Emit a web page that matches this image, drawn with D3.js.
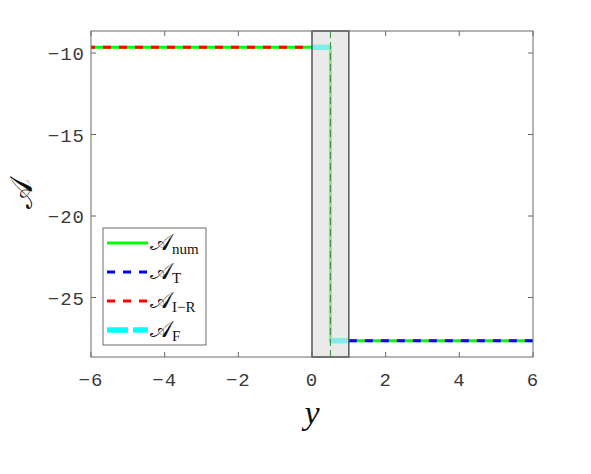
<!DOCTYPE html>
<html><head><meta charset="utf-8">
<script src="https://cdn.jsdelivr.net/npm/d3@7"></script>
<style>
body{margin:0;background:#fff;}
svg text{font-family:"Liberation Mono","DejaVu Sans Mono",monospace;}
</style></head>
<body><svg id="c" width="591" height="474"></svg>
<script>
// data
const xTicks = [-6,-4,-2,0,2,4,6];
const yTicks = [-25,-20,-15,-10];
const xDomain = [-6, 6];
const yDomain = [-28.65, -8.65];
const numX = [-6, 0.5, 0.5, 6];
const numV = [-9.65, -9.65, -27.65, -27.65];
const tX = [1, 6];
const tV = [-27.65, -27.65];
const irX = [-6, 0];
const irV = [-9.65, -9.65];
const fX = [0, 0.5, NaN, 0.5, 1];
const fV = [-9.65, -9.65, NaN, -27.65, -27.65];
const bandX = [0, 1];
const legendLabels = ["num", "T", "I\u2212R", "F"];

const svg = d3.select("#c");
const L=91, R=533, T=31, B=357;
const x = d3.scaleLinear().domain(xDomain).range([L,R]);
const y = d3.scaleLinear().domain(yDomain).range([B,T]);
const axisCol = "#6b6b6b";

const pts = (xs, vs) => xs.map((d,i)=>[d, vs[i]]);
const line = d3.line().defined(d=>!isNaN(d[0])&&!isNaN(d[1])).x(d=>x(d[0])).y(d=>y(d[1]));

const g = svg.append("g");
g.append("path").attr("d", line(pts(numX,numV))).attr("fill","none").attr("stroke","#00ff00").attr("stroke-width",3);
g.append("path").attr("d", line(pts(tX,tV))).attr("fill","none").attr("stroke","#0000ff").attr("stroke-width",3).attr("stroke-dasharray","8,8");
g.append("path").attr("d", line(pts(irX,irV))).attr("fill","none").attr("stroke","#ff0000").attr("stroke-width",3).attr("stroke-dasharray","8,8").attr("stroke-dashoffset",4);
g.append("path").attr("d", line(pts(fX,fV))).attr("fill","none").attr("stroke","#00ffff").attr("stroke-width",5.5).attr("stroke-dasharray","21,5");

// band overlay
g.append("rect").attr("x", x(bandX[0])).attr("y", T).attr("width", x(bandX[1])-x(bandX[0])).attr("height", B-T)
  .attr("fill","#dcdcdc").attr("fill-opacity",0.6).attr("stroke","#555").attr("stroke-width",1.5);
// dashed interface marker at 0.5
g.append("line").attr("x1", x(0.5)).attr("x2", x(0.5)).attr("y1", T).attr("y2", B)
  .attr("stroke","#3d8a3d").attr("stroke-width",1).attr("stroke-dasharray","7,4");

// axes box
svg.append("rect").attr("x",L).attr("y",T).attr("width",R-L).attr("height",B-T).attr("fill","none").attr("stroke",axisCol).attr("stroke-width",1);

const ax = svg.append("g");
const tl = 5;
xTicks.forEach(t=>{
  ax.append("line").attr("x1",x(t)).attr("x2",x(t)).attr("y1",B).attr("y2",B-tl).attr("stroke",axisCol);
  ax.append("line").attr("x1",x(t)).attr("x2",x(t)).attr("y1",T).attr("y2",T+tl).attr("stroke",axisCol);
  ax.append("text").attr("x",x(t)).attr("y",B+29).attr("text-anchor","middle").attr("font-size",19).attr("letter-spacing","1px").attr("fill","#3a3a3a")
    .text(t<0?"\u2212"+Math.abs(t):String(t));
});
yTicks.forEach(t=>{
  ax.append("line").attr("x1",L).attr("x2",L+tl).attr("y1",y(t)).attr("y2",y(t)).attr("stroke",axisCol);
  ax.append("line").attr("x1",R).attr("x2",R-tl).attr("y1",y(t)).attr("y2",y(t)).attr("stroke",axisCol);
  ax.append("text").attr("x",L-6).attr("y",y(t)+7).attr("text-anchor","end").attr("font-size",19).attr("letter-spacing","1px").attr("fill","#3a3a3a")
    .text("\u2212"+Math.abs(t));
});

// axis labels
svg.append("text").attr("x",(L+R)/2).attr("y",424).attr("text-anchor","middle")
  .style("font-family","'Liberation Serif',serif").style("font-style","italic").attr("font-size",34).attr("fill","#111").text("y");
svg.append("text").attr("transform",`translate(32,${(T+B)/2}) rotate(-90)`).attr("text-anchor","middle")
  .style("font-family","'DejaVu Serif',serif").attr("font-size",32).attr("fill","#111").text("\uD835\uDC9C");

// legend
const lg = svg.append("g");
lg.append("rect").attr("x",103).attr("y",228).attr("width",103).attr("height",117).attr("fill","#fff").attr("stroke",axisCol).attr("stroke-width",1);
const ys = [243, 272, 301, 330];
const styles = [
  {c:"#00ff00", w:3, d:null},
  {c:"#0000ff", w:3, d:"8,8"},
  {c:"#ff0000", w:3, d:"8,8"},
  {c:"#00ffff", w:5.5, d:"21,5"}
];
legendLabels.forEach((lab,i)=>{
  const s = styles[i];
  const ln = lg.append("line").attr("x1",107).attr("x2",148).attr("y1",ys[i]).attr("y2",ys[i]).attr("stroke",s.c).attr("stroke-width",s.w);
  if (s.d) ln.attr("stroke-dasharray", s.d);
  const t = lg.append("text").attr("x",150).attr("y",ys[i]+7).style("font-family","'DejaVu Serif',serif").attr("font-size",23).attr("fill","#111");
  t.append("tspan").text("\uD835\uDC9C");
  t.append("tspan").attr("dy",4).attr("font-size",15).style("font-family","'Liberation Serif',serif").text(lab);
});
</script></body></html>
